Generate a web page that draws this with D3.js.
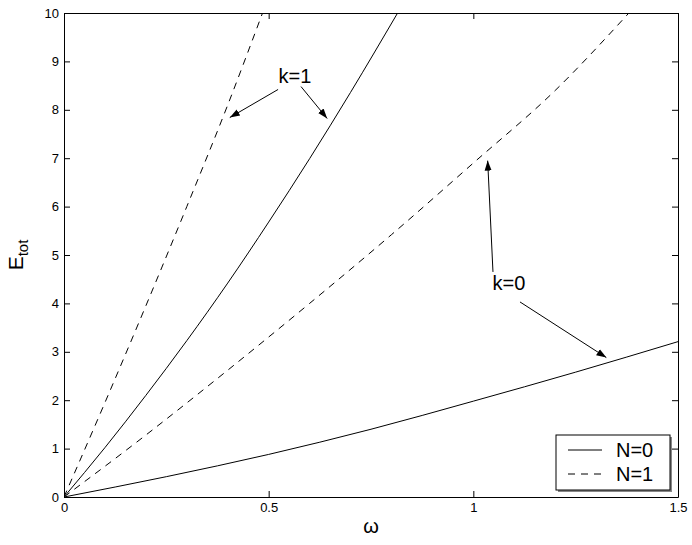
<!DOCTYPE html>
<html>
<head>
<meta charset="utf-8">
<script src="https://cdn.jsdelivr.net/npm/d3@7"></script>
<style>
  body { margin: 0; background: #fff; }
  text { font-family: "Liberation Sans", Arial, sans-serif; fill: #000; }
</style>
</head>
<body>
<script>
const w = 692
const h = 545
const margin = {top: 13, right: 14, bottom: 48, left: 64}

// omega / E_tot pairs
const omegaK1N0 = [0, 0.1, 0.2, 0.3, 0.4, 0.5, 0.6, 0.7, 0.815]
const energyK1N0 = [0, 1.02, 2.1, 3.23, 4.42, 5.68, 6.99, 8.36, 10]

const omegaK1N1 = [0, 0.1, 0.2, 0.3, 0.4, 0.485]
const energyK1N1 = [0, 1.95, 3.95, 6.0, 8.1, 10]

const omegaK0N1 = [0, 0.2, 0.4, 0.6, 0.8, 1.0, 1.2, 1.38]
const energyK0N1 = [0, 1.28, 2.62, 4.0, 5.42, 6.9, 8.4, 10]

const omegaK0N0 = [0, 0.25, 0.5, 0.75, 1.0, 1.25, 1.5]
const energyK0N0 = [0, 0.42, 0.88, 1.40, 1.98, 2.58, 3.21]

const xTicks = [0, 0.5, 1, 1.5]
const xTickLabels = ['0', '0.5', '1', '1.5']
const yTicks = [0, 1, 2, 3, 4, 5, 6, 7, 8, 9, 10]

const legendLabels = ['N=0', 'N=1']

// annotation text and arrows in data units
const labels = [
  {text: 'k=1', x: 0.564, y: 8.56},
  {text: 'k=0', x: 1.087, y: 4.28}
]
const arrows = [
  {x1: 0.523, y1: 8.42, x2: 0.405, y2: 7.84},
  {x1: 0.579, y1: 8.48, x2: 0.643, y2: 7.82},
  {x1: 1.048, y1: 4.65, x2: 1.035, y2: 6.95},
  {x1: 1.114, y1: 4.03, x2: 1.325, y2: 2.88}
]

const series = [
  {omega: omegaK1N0, energy: energyK1N0, dash: null},
  {omega: omegaK1N1, energy: energyK1N1, dash: '7,6'},
  {omega: omegaK0N1, energy: energyK0N1, dash: '7,6'},
  {omega: omegaK0N0, energy: energyK0N0, dash: null}
]

const x = d3.scaleLinear().domain([0, 1.5]).range([margin.left, w - margin.right])
const y = d3.scaleLinear().domain([0, 10]).range([h - margin.bottom, margin.top])

const svg = d3.select('body').append('svg')
    .attr('width', w)
    .attr('height', h)

svg.append('defs').append('marker')
    .attr('id', 'head')
    .attr('viewBox', '0 0 10 10')
    .attr('refX', 10)
    .attr('refY', 5)
    .attr('markerWidth', 10)
    .attr('markerHeight', 10)
    .attr('markerUnits', 'userSpaceOnUse')
    .attr('orient', 'auto')
  .append('path')
    .attr('d', 'M0,1.5L10,5L0,8.5Z')
    .attr('fill', '#000')

svg.append('clipPath').attr('id', 'plot')
  .append('rect')
    .attr('x', margin.left)
    .attr('y', margin.top)
    .attr('width', w - margin.left - margin.right)
    .attr('height', h - margin.top - margin.bottom)

const line = d3.line()
    .x(function (d) { return x(d[0]) })
    .y(function (d) { return y(d[1]) })
    .curve(d3.curveMonotoneX)

svg.append('g').attr('clip-path', 'url(#plot)')
  .selectAll('path')
  .data(series)
  .enter()
  .append('path')
    .attr('d', function (s) { return line(s.omega.map(function (o, i) { return [o, s.energy[i]] })) })
    .attr('fill', 'none')
    .attr('stroke', '#000')
    .attr('stroke-width', 1)
    .attr('stroke-dasharray', function (s) { return s.dash })

// axes, MATLAB style box with inward ticks
const axisStyle = function (g) {
  g.select('.domain').attr('stroke', '#000')
  g.selectAll('.tick line').attr('stroke', '#000')
  g.selectAll('.tick text').style('font-size', '13px').attr('fill', '#000')
}

svg.append('g')
    .attr('transform', 'translate(0,' + (h - margin.bottom) + ')')
    .call(d3.axisBottom(x).tickValues(xTicks).tickFormat(function (d, i) { return xTickLabels[i] })
      .tickSizeInner(-6).tickSizeOuter(0).tickPadding(6))
    .call(axisStyle)

svg.append('g')
    .attr('transform', 'translate(0,' + margin.top + ')')
    .call(d3.axisTop(x).tickValues(xTicks).tickFormat('').tickSizeInner(-6).tickSizeOuter(0))
    .call(axisStyle)

svg.append('g')
    .attr('transform', 'translate(' + margin.left + ',0)')
    .call(d3.axisLeft(y).tickValues(yTicks).tickFormat(d3.format('d'))
      .tickSizeInner(-6).tickSizeOuter(0).tickPadding(5))
    .call(axisStyle)

svg.append('g')
    .attr('transform', 'translate(' + (w - margin.right) + ',0)')
    .call(d3.axisRight(y).tickValues(yTicks).tickFormat('').tickSizeInner(-6).tickSizeOuter(0))
    .call(axisStyle)

// annotations
svg.selectAll('.note')
  .data(labels)
  .enter()
  .append('text')
    .attr('class', 'note')
    .attr('x', function (d) { return x(d.x) })
    .attr('y', function (d) { return y(d.y) })
    .attr('text-anchor', 'middle')
    .style('font-size', '20px')
    .text(function (d) { return d.text })

svg.selectAll('.arrow')
  .data(arrows)
  .enter()
  .append('line')
    .attr('class', 'arrow')
    .attr('x1', function (d) { return x(d.x1) })
    .attr('y1', function (d) { return y(d.y1) })
    .attr('x2', function (d) { return x(d.x2) })
    .attr('y2', function (d) { return y(d.y2) })
    .attr('stroke', '#000')
    .attr('stroke-width', 1)
    .attr('marker-end', 'url(#head)')

// axis titles
svg.append('text')
    .attr('x', x(0.75))
    .attr('y', h - 12)
    .attr('text-anchor', 'middle')
    .style('font-size', '20px')
    .text('ω')

const yTitle = svg.append('text')
    .attr('transform', 'translate(23,' + y(5) + ') rotate(-90)')
    .attr('text-anchor', 'middle')
    .style('font-size', '21px')
yTitle.append('tspan').text('E')
yTitle.append('tspan').attr('dy', 5).style('font-size', '15px').text('tot')

// legend
const lg = svg.append('g').attr('transform', 'translate(556,435)')
lg.append('rect')
    .attr('x', 2).attr('y', 2).attr('width', 114).attr('height', 55)
    .attr('fill', '#888')
lg.append('rect')
    .attr('x', 0).attr('y', 0).attr('width', 114).attr('height', 55)
    .attr('fill', '#fff').attr('stroke', '#000')

const item = lg.selectAll('.item')
  .data(legendLabels)
  .enter()
  .append('g')
    .attr('class', 'item')
    .attr('transform', function (d, i) { return 'translate(0,' + (15 + i * 24) + ')' })

item.append('line')
    .attr('x1', 12).attr('x2', 46)
    .attr('stroke', '#000')
    .attr('stroke-dasharray', function (d, i) { return i ? '7,6' : null })
item.append('text')
    .attr('x', 60).attr('y', 7)
    .style('font-size', '20px')
    .text(function (d) { return d })
</script>
</body>
</html>
